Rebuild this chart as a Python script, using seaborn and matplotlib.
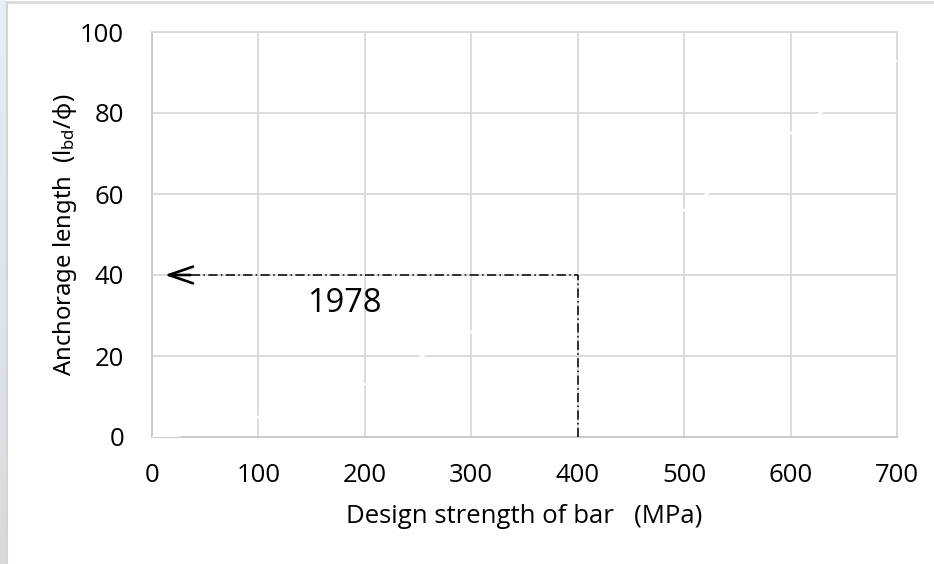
import numpy as np
import pandas as pd
import matplotlib
matplotlib.use("Agg")
import matplotlib.pyplot as plt
from matplotlib.lines import Line2D
import seaborn as sns

# Anchorage curve (drawn in white, shows only where it crosses the grid)
strength_mpa = [0, 20, 100, 200, 300, 400, 500, 600, 700]
anchorage_ratio = [0, 0, 5, 13, 26, 40, 56, 75, 93]

# 1978 design point read-off
design_strength = 400
design_anchorage = 40
arrow_tip_x = 12
code_year = "1978"
label_pos = (181, 33)

x_ticks = [0, 100, 200, 300, 400, 500, 600, 700]
y_ticks = [0, 20, 40, 60, 80, 100]

sns.set_theme(style="whitegrid")
plt.rcParams["font.family"] = ["Open Sans", "DejaVu Sans"]
plt.rcParams["mathtext.fontset"] = "custom"
plt.rcParams["mathtext.rm"] = "Noto Sans"
plt.rcParams["mathtext.it"] = "Noto Sans"

fs = 18.5

fig = plt.figure(figsize=(9.34, 5.64), dpi=100)
fig.patch.set_facecolor("white")
ax = fig.add_axes([152 / 934, 1 - 437 / 564, 745 / 934, 405 / 564])
ax.set_facecolor("white")

df = pd.DataFrame({"strength": strength_mpa, "ratio": anchorage_ratio})
sns.lineplot(data=df, x="strength", y="ratio", ax=ax, color="white",
             lw=1.6, zorder=3, legend=False)

dashdot = (0, (6, 2.2, 1, 2.2))
guide = pd.DataFrame({"x": [design_strength, design_strength, arrow_tip_x + 6],
                      "y": [0, design_anchorage, design_anchorage]})
ax.plot(guide["x"], guide["y"], color="black", lw=1.1, linestyle=dashdot,
        zorder=4)
ax.annotate("", xy=(arrow_tip_x, design_anchorage),
            xytext=(arrow_tip_x + 24, design_anchorage),
            arrowprops=dict(arrowstyle="->,head_length=1.45,head_width=0.5",
                            color="black", lw=1.9, shrinkA=0, shrinkB=0),
            zorder=5)

ax.text(label_pos[0], label_pos[1], code_year, fontsize=23.5, ha="center",
        va="center", color="black")

ax.set_xlim(0, 700)
ax.set_ylim(0, 100)
ax.set_xticks(x_ticks)
ax.set_yticks(y_ticks)
ax.grid(True, color="#d9d9d9", lw=1.3)
ax.tick_params(axis="both", length=0, labelsize=fs, colors="black")
ax.tick_params(axis="y", pad=20)
ax.tick_params(axis="x", pad=19)
for side, sp in ax.spines.items():
    sp.set_visible(True)
    sp.set_color("#d9d9d9")
    sp.set_linewidth(1.3)
ax.spines["bottom"].set_color("#c8c8c8")
ax.spines["left"].set_color("#c8c8c8")

ax.set_xlabel("Design strength of bar   (MPa)", fontsize=fs, color="black",
              labelpad=11)
ax.set_ylabel(r"Anchorage length  (l$_{\mathrm{bd}}$/ϕ)", fontsize=17.2,
              color="black", labelpad=1, fontfamily="Noto Sans")

# slide background strip and frame around the chart area
strip = fig.add_axes([0, 0, 6 / 934, 1])
grad = np.linspace(0, 1, 256)[:, None]
cmap = matplotlib.colors.LinearSegmentedColormap.from_list(
    "strip", ["#e6eefa", "#e0e4ea", "#dadada"])
strip.imshow(grad, aspect="auto", cmap=cmap, extent=[0, 1, 0, 1],
             origin="upper")
strip.axis("off")
fig.add_artist(Line2D([6.5 / 934, 6.5 / 934], [0, 1 - 1.5 / 564],
                      transform=fig.transFigure, color="#d4d4d4", lw=1.5))
fig.add_artist(Line2D([6.5 / 934, 1], [1 - 1.5 / 564, 1 - 1.5 / 564],
                      transform=fig.transFigure, color="#d9d9d9", lw=2))

fig.savefig("out.png", dpi=100)
